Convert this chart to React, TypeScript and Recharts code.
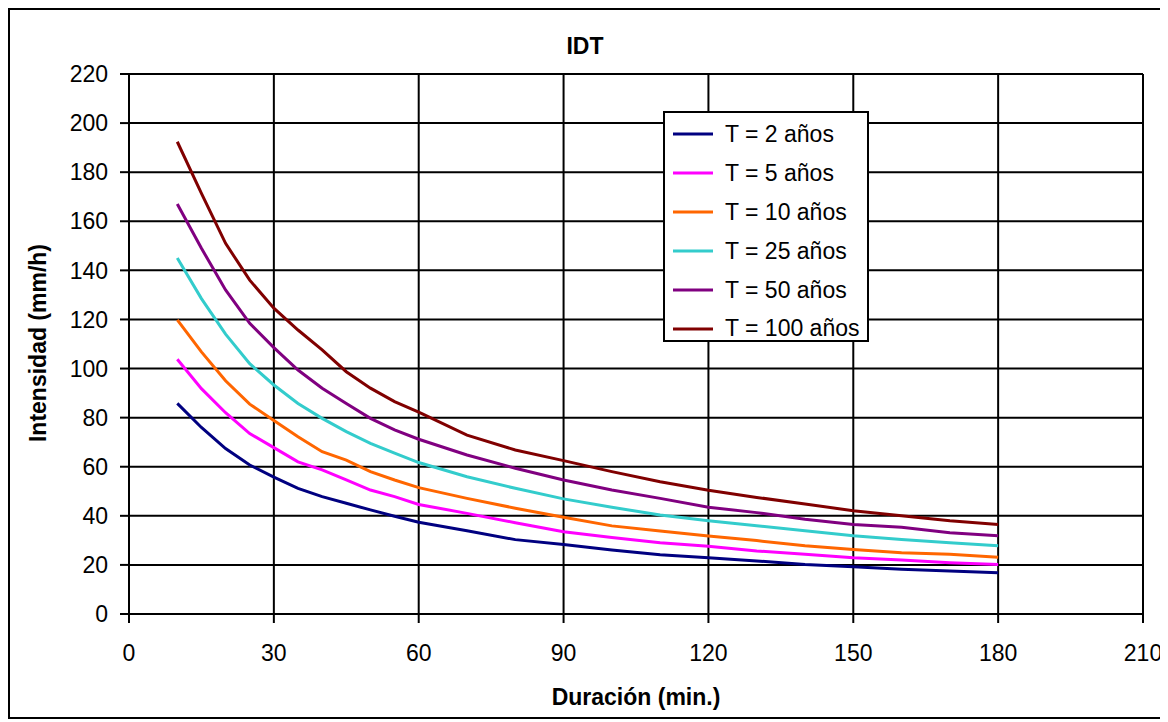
import { LineChart, Line, XAxis, YAxis, CartesianGrid } from "recharts";

// duración (min.)
const durations = [10, 15, 20, 25, 30, 35, 40, 45, 50, 55, 60, 70, 80, 90, 100, 110, 120, 130, 140, 150, 160, 170, 180];

// intensidad (mm/h) per return period
const t2 = [85.8, 76, 67.4, 60.7, 55.8, 51.2, 47.8, 45.1, 42.4, 39.8, 37.4, 33.9, 30.3, 28.3, 26.1, 24.1, 22.9, 21.6, 20.2, 19.3, 18.2, 17.5, 16.8];
const t5 = [103.8, 91.8, 82, 73.5, 67.8, 62, 58.7, 54.6, 50.5, 47.8, 44.6, 41, 37.2, 33.5, 31.2, 29, 27.6, 25.7, 24.3, 22.9, 22, 20.9, 20.2];
const t10 = [119.8, 106.8, 95, 85.5, 78.8, 72.2, 66.1, 62.7, 58, 54.6, 51.5, 47.1, 43.1, 39.4, 35.9, 33.8, 31.8, 29.9, 27.8, 26.3, 25, 24.3, 23.1];
const t25 = [145, 128.5, 114, 102, 93.3, 85.8, 79.7, 74.3, 69.5, 65.5, 61.7, 55.9, 51.2, 46.9, 43.5, 40.3, 38, 36, 33.9, 31.9, 30.4, 29, 27.8];
const t50 = [167, 149, 132, 118.4, 108.5, 99.4, 92, 85.8, 79.7, 75, 71.2, 64.8, 59.4, 54.6, 50.5, 47.1, 43.5, 41.3, 38.6, 36.5, 35.3, 33.1, 31.9];
const t100 = [192.4, 171.4, 151, 136, 124.6, 115.7, 107.6, 98.7, 92, 86.5, 82.2, 72.9, 66.8, 62.5, 58, 53.9, 50.4, 47.5, 44.8, 42.1, 40, 38, 36.5];

const xTicks = [0, 30, 60, 90, 120, 150, 180, 210];
const yTicks = [0, 20, 40, 60, 80, 100, 120, 140, 160, 180, 200, 220];

const series = [
  { key: "t2", name: "T = 2 años", values: t2, color: "#000080" },
  { key: "t5", name: "T = 5 años", values: t5, color: "#FF00FF" },
  { key: "t10", name: "T = 10 años", values: t10, color: "#FF6600" },
  { key: "t25", name: "T = 25 años", values: t25, color: "#33CCCC" },
  { key: "t50", name: "T = 50 años", values: t50, color: "#800080" },
  { key: "t100", name: "T = 100 años", values: t100, color: "#800000" },
];

const data = durations.map((d, i) => {
  const row: Record<string, number> = { d };
  series.forEach((s) => (row[s.key] = s.values[i]));
  return row;
});

const FONT = '"Liberation Sans", Arial, sans-serif';
const W = 1156;
const H = 711;

const titleStyle = {
  position: "absolute" as const,
  whiteSpace: "nowrap" as const,
  fontFamily: FONT,
  fontWeight: "bold" as const,
  fontSize: 23,
  lineHeight: 1,
};

function LegendBox() {
  return (
    <div
      style={{
        position: "absolute",
        left: 655,
        top: 103,
        width: 206,
        height: 231,
        boxSizing: "border-box",
        border: "2px solid #000",
        background: "#fff",
        paddingTop: 2,
        fontFamily: FONT,
      }}
    >
      {series.map((s) => (
        <div key={s.key} style={{ display: "flex", alignItems: "center", height: 38.9 }}>
          <svg width={52} height={10} style={{ marginLeft: 8 }}>
            <line x1={0} y1={5} x2={40} y2={5} stroke={s.color} strokeWidth={3} />
          </svg>
          <span style={{ fontSize: 23, color: "#000", whiteSpace: "nowrap" }}>{s.name}</span>
        </div>
      ))}
    </div>
  );
}

export default function App() {
  const tick = { fill: "#000", fontSize: 23, fontFamily: FONT };
  return (
    <div style={{ position: "relative", width: W, height: H, background: "#fff" }}>
      <LineChart
        width={W}
        height={H}
        data={data}
        margin={{ top: 66, right: 21, bottom: 65, left: 61 }}
      >
        <CartesianGrid stroke="#000" strokeWidth={2} />
        <XAxis
          dataKey="d"
          type="number"
          domain={[0, 210]}
          ticks={xTicks}
          interval={0}
          height={40}
          tick={tick}
          tickSize={9}
          tickMargin={22}
          axisLine={{ stroke: "#000", strokeWidth: 2 }}
          tickLine={{ stroke: "#000", strokeWidth: 2 }}
        />
        <YAxis
          type="number"
          domain={[0, 220]}
          ticks={yTicks}
          interval={0}
          width={60}
          tick={tick}
          tickSize={9}
          tickMargin={12}
          axisLine={{ stroke: "#000", strokeWidth: 2 }}
          tickLine={{ stroke: "#000", strokeWidth: 2 }}
        />
        {series.map((s) => (
          <Line
            key={s.key}
            dataKey={s.key}
            name={s.name}
            stroke={s.color}
            strokeWidth={3}
            dot={false}
            activeDot={false}
            type="linear"
            isAnimationActive={false}
          />
        ))}
      </LineChart>
      <LegendBox />
      <div
        style={{
          position: "absolute",
          left: 0,
          top: 0,
          width: W,
          height: H,
          boxSizing: "border-box",
          border: "2px solid #000",
          pointerEvents: "none",
        }}
      />
      <div style={{ ...titleStyle, left: 577, top: 38, transform: "translate(-50%, -50%)" }}>IDT</div>
      <div style={{ ...titleStyle, left: 628, top: 689, transform: "translate(-50%, -50%)" }}>Duración (min.)</div>
      <div style={{ ...titleStyle, left: 30, top: 335, transform: "translate(-50%, -50%) rotate(-90deg)" }}>
        Intensidad (mm/h)
      </div>
    </div>
  );
}
